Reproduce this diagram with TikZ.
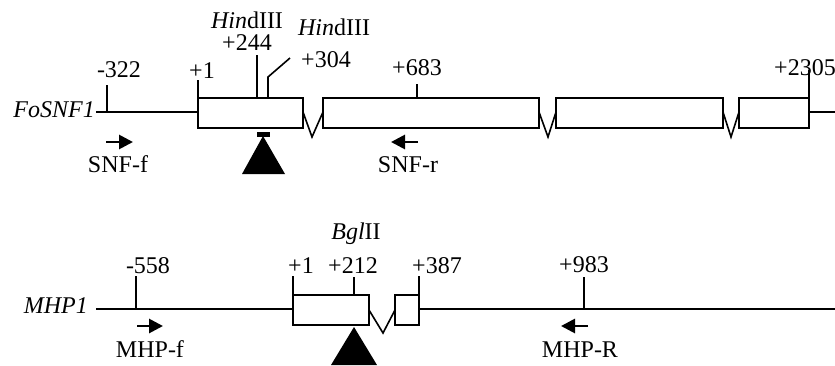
\documentclass[tikz,border=0pt]{standalone}
\usepackage{fontspec}
\setmainfont{Liberation Serif}
\usepackage{tikz}
\usetikzlibrary{arrows.meta}

\tikzset{
  gene/.style={line width=1.6pt},
  exon/.style={draw, line width=1.6pt},
  site/.style={anchor=base, inner sep=0pt, font=\fontsize{24}{28}\selectfont},
  primer/.style={line width=2.8pt, -{Triangle[length=14pt,width=14pt]}},
}

\begin{document}
\begin{tikzpicture}[x=1pt,y=-1pt]
		\useasboundingbox (0,0) rectangle (835,365);
		% FoSNF1
		\node[site, anchor=base east] (snf) at (95,117) {\textit{FoSNF1}};
		\draw[gene] (96,112) -- (198,112);
		\draw[exon] (198,98) rectangle (303,128);
		\draw[gene] (303,112) -- (312,137) -- (323,112);
		\draw[exon] (323,98) rectangle (539,128);
		\draw[gene] (539,112) -- (548,137) -- (556,112);
		\draw[exon] (556,98) rectangle (723,128);
		\draw[gene] (723,112) -- (731,137) -- (739,112);
		\draw[exon] (739,98) rectangle (809,128);
		\draw[gene] (809,112) -- (835,112);
		\draw[gene] (107,112) -- (107,85);
		\draw[gene] (198,98) -- (198,80);
		\draw[gene] (257,98) -- (257,55);
		\draw[gene] (268,98) -- (268,77) -- (290,58);
		\draw[gene] (417,98) -- (417,84);
		\draw[gene] (809,98) -- (809,70);
		\node[site] (s322) at (119,77) {-322};
		\node[site] (s1) at (202,78) {+1};
		\node[site] (s244) at (247,50) {+244};
		\node[site] (hind1) at (247,28) {\textit{Hin}dIII};
		\node[site] (s304) at (326,67) {+304};
		\node[site] (hind2) at (334,35) {\textit{Hin}dIII};
		\node[site] (s683) at (417,75) {+683};
		\node[site] (s2305) at (805,75) {+2305};
		% insertion
		\fill (257,132) rectangle (270,137);
		\fill (263,136) -- (285,174) -- (242,174) -- cycle;
		% primers
		\draw[primer] (106,142) -- (133,142);
		\node[site] (snff) at (118,172) {SNF-f};
		\draw[primer] (418,142) -- (391,142);
		\node[site] (snfr) at (408,172) {SNF-r};
		% MHP1
		\node[site, anchor=base east] (mhp) at (88,313) {\textit{MHP1}};
		\draw[gene] (96,309) -- (293,309);
		\draw[exon] (293,295) rectangle (369,325);
		\draw[gene] (369,310) -- (383,333) -- (395,310);
		\draw[exon] (395,295) rectangle (419,325);
		\draw[gene] (419,309) -- (835,309);
		\draw[gene] (136,309) -- (136,276);
		\draw[gene] (293,295) -- (293,276);
		\draw[gene] (354,295) -- (354,277);
		\draw[gene] (419,295) -- (419,276);
		\draw[gene] (584,309) -- (584,277);
		\node[site] (s558) at (148,273) {-558};
		\node[site] (m1) at (301,273) {+1};
		\node[site] (s212) at (353,273) {+212};
		\node[site] (bgl) at (356,239) {\textit{Bgl}II};
		\node[site] (s387) at (437,273) {+387};
		\node[site] (s983) at (584,272) {+983};
		\fill (354,327) -- (377,365) -- (331,365) -- cycle;
		\draw[primer] (137,326) -- (163,326);
		\node[site] (mhpf) at (150,357) {MHP-f};
		\draw[primer] (588,326) -- (561,326);
		\node[site] (mhpr) at (580,357) {MHP-R};
	\end{tikzpicture}
\end{document}
